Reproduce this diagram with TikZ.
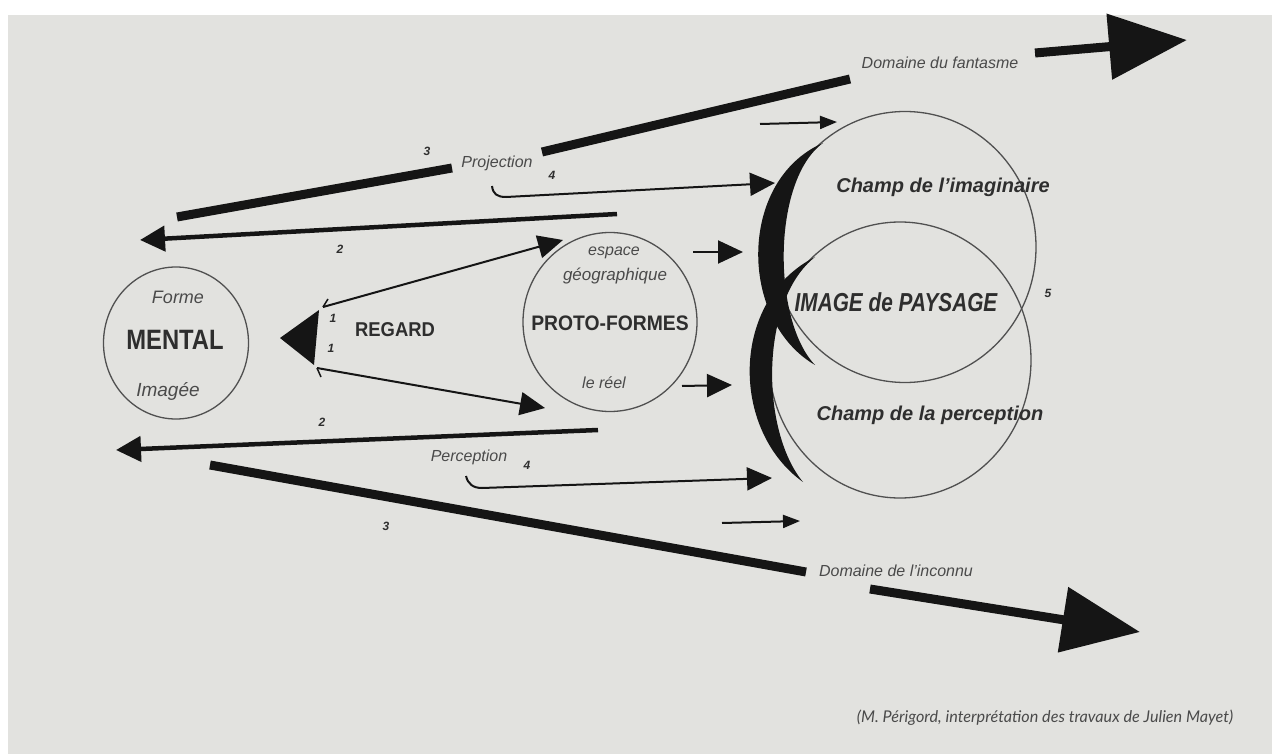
\documentclass[tikz,border=0pt]{standalone}
\usepackage{fontspec}
\setmainfont{Liberation Sans}
\newfontfamily\condA[FakeStretch=0.85]{Liberation Sans}
\newfontfamily\condB[FakeStretch=0.92]{Liberation Sans}
\newfontfamily\condC[FakeStretch=0.8]{Liberation Sans}
\newfontfamily\capfont{Lato}
\usetikzlibrary{arrows.meta,shapes.geometric}
\definecolor{bg}{HTML}{E2E2DF}
\definecolor{ink}{HTML}{151515}
\definecolor{txt}{HTML}{2E2E2E}
\definecolor{soft}{HTML}{4A4A4A}
\definecolor{ringc}{HTML}{505050}
\begin{document}
\begin{tikzpicture}[x=1pt,y=-1pt,
  ringnode/.style={ellipse, draw=ringc, line width=1.3pt, inner sep=0pt},
  lbl/.style={font=\itshape\fontsize{16}{16}\selectfont, text=soft, inner sep=0pt},
  num/.style={font=\bfseries\itshape\fontsize{12}{12}\selectfont, text=txt, inner sep=0pt},
  thickline/.style={draw=ink, line width=9pt},
  bigarrow/.style={draw=ink, line width=9pt, -{Triangle[length=78pt,width=64pt]}},
  medarrow/.style={draw=ink, line width=4.5pt, -{Triangle[length=25pt,width=25pt]}},
  thinarrow/.style={draw=ink, line width=2pt, -{Triangle[length=25pt,width=23pt]}},
  smallarrow/.style={draw=ink, line width=2pt, -{Triangle[length=17pt,width=13pt]}},
  tick/.style={draw=ink, line width=1.5pt}
]
\fill[white] (0,0) rectangle (1272,754);
\fill[bg] (8,15) rectangle (1272,754);
\useasboundingbox (0,0) rectangle (1272,754);

% circles
\node[ringnode, minimum width=145pt, minimum height=152pt] (mental) at (176,343) {};
\node[ringnode, minimum width=174pt, minimum height=179pt] (proto) at (610,322) {};
\node[ringnode, minimum width=262pt, minimum height=271pt] (imag) at (905,247) {};
\node[ringnode, minimum width=262pt, minimum height=276pt] (perc) at (900,360) {};

% crescents
\fill[ink] (823,143) .. controls (738,180) and (738,320) .. (815,365)
   .. controls (772,320) and (772,180) .. (823,143) -- cycle;
\fill[ink] (815,257) .. controls (730,300) and (730,430) .. (803,482)
   .. controls (760,430) and (760,300) .. (815,257) -- cycle;

% texts in circles
\node[lbl, font=\itshape\fontsize{18}{18}\selectfont] (forme) at (178,297) {Forme};
\node[font=\condA\bfseries\fontsize{28}{28}\selectfont, text=txt, inner sep=0pt] (mentalt) at (175,340) {MENTAL};
\node[lbl, font=\itshape\fontsize{19}{19}\selectfont] (imagee) at (168,391) {Imagée};

\node[lbl] (espace) at (614,253) {espace};
\node[lbl, font=\itshape\fontsize{17}{17}\selectfont] (geo) at (615,276) {géographique};
\node[font=\condB\bfseries\fontsize{21}{21}\selectfont, text=txt, inner sep=0pt] (protot) at (610,323) {PROTO-FORMES};
\node[lbl] (reel) at (604,383) {le réel};

\node[font=\condB\bfseries\fontsize{20}{20}\selectfont, text=txt, inner sep=0pt] (regard) at (395,330) {REGARD};
\node[num] (n1a) at (333,318) {1};
\node[num] (n1b) at (331,348) {1};

\node[font=\bfseries\itshape\fontsize{20}{20}\selectfont, text=txt, inner sep=0pt] (champi) at (943,187) {Champ de l'imaginaire};
\node[font=\condC\bfseries\itshape\fontsize{26}{26}\selectfont, text=txt, inner sep=0pt] (paysage) at (896,302) {IMAGE de PAYSAGE};
\node[font=\bfseries\itshape\fontsize{20}{20}\selectfont, text=txt, inner sep=0pt] (champp) at (930,415) {Champ de la perception};
\node[num] (n5) at (1048,293) {5};

% upper flow labels
\node[lbl] (projection) at (497,163) {Projection};
\node[num] (n3a) at (427,151) {3};
\node[num] (n4a) at (552,175) {4};
\node[num] (n2a) at (340,249) {2};
\node[lbl] (fantasme) at (940,63) {Domaine du fantasme};

% lower flow labels
\node[lbl] (perception) at (469,457) {Perception};
\node[num] (n4b) at (527,465) {4};
\node[num] (n2b) at (322,422) {2};
\node[num] (n3b) at (386,526) {3};
\node[lbl] (inconnu) at (896,571) {Domaine de l'inconnu};

% coordinates
\coordinate (t3a) at (177,217); \coordinate (t3b) at (452,168);
\coordinate (t3c) at (542,152); \coordinate (t3d) at (850,79);
\coordinate (t3e) at (1035,53); \coordinate (t3tip) at (1187,40);
\coordinate (b3a) at (210,465); \coordinate (b3b) at (806,572);
\coordinate (b3c) at (870,589); \coordinate (b3tip) at (1140,632);
\coordinate (a2s) at (617,214); \coordinate (a2t) at (140,240);
\coordinate (b2s) at (598,430); \coordinate (b2t) at (116,450);
\coordinate (h4s) at (492,186); \coordinate (h4t) at (775,183);
\coordinate (k4s) at (466,476); \coordinate (k4t) at (772,478);
\coordinate (st1) at (760,124); \coordinate (st2) at (837,122);
\coordinate (sb1) at (722,523); \coordinate (sb2) at (800,521);
\coordinate (pu1) at (693,252); \coordinate (pu2) at (743,252);
\coordinate (pl1) at (682,386); \coordinate (pl2) at (732,385);
\coordinate (ru1) at (323,307); \coordinate (ru2) at (563,240);
\coordinate (rl1) at (317,368); \coordinate (rl2) at (545,408);
\coordinate (tri1) at (280,338); \coordinate (tri2) at (319,310); \coordinate (tri3) at (314,365);

% thick lines 3
\draw[thickline] (t3a) -- (t3b);
\draw[thickline] (t3c) -- (t3d);
\draw[bigarrow] (t3e) -- (t3tip);
\draw[thickline] (b3a) -- (b3b);
\draw[bigarrow] (b3c) -- (b3tip);

% arrows 2
\draw[medarrow] (a2s) -- (a2t);
\draw[medarrow] (b2s) -- (b2t);

% hook arrows 4
\draw[thinarrow] (h4s) .. controls (493,194) and (497,197) .. (506,197) -- (h4t);
\draw[thinarrow] (k4s) .. controls (468,484) and (473,488) .. (482,488) -- (k4t);

% small arrows
\draw[smallarrow] (st1) -- (st2);
\draw[smallarrow] (sb1) -- (sb2);
\draw[thinarrow] (pu1) -- (pu2);
\draw[thinarrow] (pl1) -- (pl2);

% regard
\draw[thinarrow] (ru1) -- (ru2);
\draw[thinarrow] (rl1) -- (rl2);
\draw[tick] (ru1) -- ++(5,-8);
\draw[tick] (rl1) -- ++(4,9);
\fill[ink] (tri1) -- (tri2) -- (tri3) -- cycle;

% caption
\node[font=\capfont\itshape\fontsize{16.2}{16.2}\selectfont, text=soft, inner sep=0pt] (caption) at (1045,718)
  {(M. Périgord, interprétation des travaux de Julien Mayet)};
\end{tikzpicture}
\end{document}
